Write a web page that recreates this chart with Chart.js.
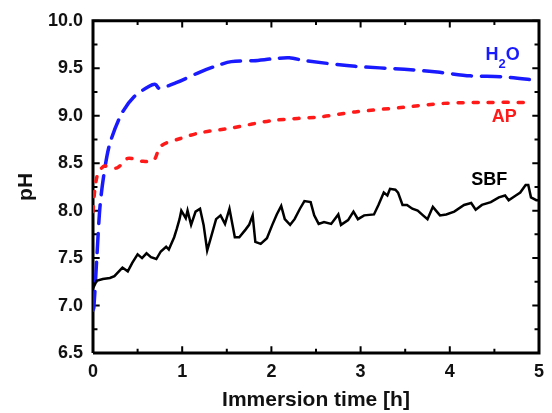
<!DOCTYPE html>
<html>
<head>
<meta charset="utf-8">
<script src="https://cdn.jsdelivr.net/npm/chart.js@4/dist/chart.umd.min.js"></script>
<style>
  html, body { margin: 0; padding: 0; background: #fff; }
  #wrap { width: 552px; height: 413px; }
</style>
</head>
<body>
<div id="wrap"><canvas id="ph-chart" width="552" height="413"></canvas></div>
<script>
// tiempos en horas y valores de pH
const h2oTime = [0, 0.01, 0.045, 0.08, 0.13, 0.19, 0.32, 0.46, 0.63, 0.7, 0.74, 0.94, 1.2, 1.4, 1.55, 1.8, 2.02, 2.2, 2.38, 2.94, 3.49, 3.86, 4.23, 4.59, 5.0];
const h2oPH = [6.95, 6.98, 7.54, 8.06, 8.43, 8.71, 9.02, 9.2, 9.31, 9.33, 9.29, 9.35, 9.46, 9.53, 9.57, 9.58, 9.6, 9.61, 9.58, 9.52, 9.49, 9.46, 9.42, 9.41, 9.37];

const apTime = [0, 0.02, 0.045, 0.08, 0.13, 0.27, 0.39, 0.55, 0.68, 0.76, 0.98, 1.2, 1.55, 2.02, 2.57, 2.94, 3.49, 3.93, 4.41, 4.9];
const apPH = [7.99, 8.22, 8.36, 8.43, 8.47, 8.45, 8.55, 8.52, 8.53, 8.68, 8.76, 8.82, 8.87, 8.95, 8.99, 9.04, 9.09, 9.13, 9.14, 9.14];

const sbfTime = [0, 0.04, 0.11, 0.19, 0.24, 0.33, 0.39, 0.44, 0.5, 0.55, 0.6, 0.65, 0.71, 0.76, 0.82, 0.85, 0.91, 0.94, 0.97, 0.99, 1.04, 1.06, 1.1, 1.15, 1.2, 1.24, 1.28, 1.32, 1.38, 1.43, 1.48, 1.53, 1.59, 1.64, 1.71, 1.75, 1.79, 1.82, 1.88, 1.95, 2.01, 2.06, 2.11, 2.15, 2.21, 2.26, 2.32, 2.37, 2.44, 2.48, 2.53, 2.59, 2.67, 2.75, 2.78, 2.86, 2.92, 2.97, 3.04, 3.15, 3.2, 3.26, 3.3, 3.33, 3.39, 3.42, 3.47, 3.52, 3.58, 3.64, 3.7, 3.75, 3.81, 3.89, 3.96, 4.05, 4.16, 4.24, 4.29, 4.36, 4.46, 4.55, 4.62, 4.66, 4.74, 4.79, 4.85, 4.88, 4.91, 4.97, 5.0];
const sbfPH = [7.18, 7.26, 7.28, 7.29, 7.31, 7.4, 7.36, 7.45, 7.54, 7.5, 7.55, 7.51, 7.49, 7.57, 7.62, 7.59, 7.72, 7.81, 7.91, 8.0, 7.92, 8.0, 7.85, 7.99, 8.02, 7.85, 7.58, 7.71, 7.91, 7.95, 7.86, 8.02, 7.72, 7.72, 7.8, 7.85, 7.95, 7.67, 7.65, 7.71, 7.85, 7.96, 8.05, 7.91, 7.85, 7.91, 8.02, 8.1, 8.09, 7.95, 7.86, 7.88, 7.86, 7.96, 7.85, 7.9, 7.99, 7.91, 7.95, 7.96, 8.06, 8.19, 8.16, 8.23, 8.22, 8.19, 8.06, 8.06, 8.02, 8.0, 7.95, 7.91, 8.04, 7.95, 7.96, 7.99, 8.06, 8.08, 8.01, 8.06, 8.09, 8.14, 8.16, 8.11, 8.16, 8.19, 8.27, 8.27, 8.14, 8.11, 8.11];

// marcas principales y secundarias
const xTicks = [0, 0.5, 1, 1.5, 2, 2.5, 3, 3.5, 4, 4.5, 5];
const yTicks = [6.5, 6.75, 7.0, 7.25, 7.5, 7.75, 8.0, 8.25, 8.5, 8.75, 9.0, 9.25, 9.5, 9.75, 10.0];

const toPoints = (t, v) => t.map((x, i) => ({ x: x, y: v[i] }));

const FONT = 'Liberation Sans, Arial, sans-serif';
const isMajorX = v => Math.abs(v - Math.round(v)) < 1e-6;
const isMajorY = v => Math.abs(v * 2 - Math.round(v * 2)) < 1e-6;

const xMin = xTicks[0], xMax = xTicks[xTicks.length - 1];
const yMin = yTicks[0], yMax = yTicks[yTicks.length - 1];

// marco del grafico como serie
const framePoints = [
    { x: xMin, y: yMin }, { x: xMax, y: yMin }, { x: xMax, y: yMax },
    { x: xMin, y: yMax }, { x: xMin, y: yMin }
];

// marcas hacia dentro como segmentos separados por null
const tickPoints = [];
xTicks.forEach(v => {
    const l = isMajorX(v) ? 0.07 : 0.045;
    tickPoints.push({ x: v, y: yMin }, { x: v, y: yMin + l }, { x: v, y: null });
    tickPoints.push({ x: v, y: yMax }, { x: v, y: yMax - l }, { x: v, y: null });
});
yTicks.forEach(v => {
    const l = isMajorY(v) ? 0.075 : 0.05;
    tickPoints.push({ x: xMin, y: v }, { x: xMin + l, y: v }, { x: xMin + l, y: null });
    tickPoints.push({ x: xMax, y: v }, { x: xMax - l, y: v }, { x: xMax - l, y: null });
});

// etiquetas de las curvas
const labelsPlugin = {
    id: 'curveLabels',
    afterDraw(chart) {
        const ctx = chart.ctx;
        const xs = chart.scales.x, ys = chart.scales.y;
        ctx.save();
        ctx.font = 'bold 18px ' + FONT;
        ctx.textBaseline = 'middle';
        ctx.textAlign = 'left';
        let x = xs.getPixelForValue(4.4), y = ys.getPixelForValue(9.64);
        ctx.fillStyle = '#1a1aff';
        ctx.fillText('H', x, y);
        x += ctx.measureText('H').width;
        ctx.font = 'bold 13px ' + FONT;
        ctx.fillText('2', x, y + 9);
        x += ctx.measureText('2').width;
        ctx.font = 'bold 18px ' + FONT;
        ctx.fillText('O', x, y);
        ctx.fillStyle = '#ff1a1a';
        ctx.fillText('AP', xs.getPixelForValue(4.47), ys.getPixelForValue(8.99));
        ctx.fillStyle = '#000';
        ctx.fillText('SBF', xs.getPixelForValue(4.24), ys.getPixelForValue(8.32));
        ctx.restore();
    }
};

new Chart(document.getElementById('ph-chart'), {
    type: 'line',
    data: {
        datasets: [
            {
                label: 'SBF',
                data: toPoints(sbfTime, sbfPH),
                borderColor: '#000',
                borderWidth: 2.5,
                pointRadius: 0,
                tension: 0
            },
            {
                label: 'AP',
                data: toPoints(apTime, apPH),
                borderColor: '#ff1a1a',
                borderWidth: 3.5,
                borderDash: [5, 10],
                borderCapStyle: 'round',
                pointRadius: 0,
                tension: 0.3
            },
            {
                label: 'H2O',
                data: toPoints(h2oTime, h2oPH),
                borderColor: '#1a1aff',
                borderWidth: 3.5,
                borderDash: [19, 10],
                borderCapStyle: 'round',
                pointRadius: 0,
                tension: 0.3
            },
            {
                label: 'ticks',
                data: tickPoints,
                borderColor: '#000',
                borderWidth: 2,
                pointRadius: 0,
                tension: 0,
                spanGaps: false,
                clip: false
            },
            {
                label: 'frame',
                data: framePoints,
                borderColor: '#000',
                borderWidth: 3,
                pointRadius: 0,
                tension: 0,
                clip: false
            }
        ]
    },
    options: {
        responsive: false,
        animation: false,
        layout: { padding: { left: 0, right: 6, top: 16, bottom: 0 } },
        plugins: { legend: { display: false }, tooltip: { enabled: false } },
        scales: {
            x: {
                type: 'linear',
                min: xMin,
                max: xMax,
                afterBuildTicks: s => { s.ticks = xTicks.filter(isMajorX).map(v => ({ value: v })); },
                afterFit: s => { s.height = 60; },
                grid: { display: false, drawTicks: false },
                border: { display: false },
                ticks: {
                    color: '#111',
                    font: { family: FONT, size: 18, weight: 'bold' },
                    padding: 8,
                    maxRotation: 0,
                    autoSkip: false,
                    callback: v => String(v)
                },
                title: {
                    display: true,
                    text: 'Immersion time [h]',
                    color: '#111',
                    font: { family: FONT, size: 21, weight: 'bold' },
                    padding: { top: 2, bottom: 0 }
                }
            },
            y: {
                min: yMin,
                max: yMax,
                afterBuildTicks: s => { s.ticks = yTicks.filter(isMajorY).map(v => ({ value: v })); },
                afterFit: s => { s.width = 93; },
                grid: { display: false, drawTicks: false },
                border: { display: false },
                ticks: {
                    color: '#111',
                    font: { family: FONT, size: 18, weight: 'bold' },
                    padding: 10,
                    autoSkip: false,
                    callback: v => v.toFixed(1)
                },
                title: {
                    display: true,
                    text: 'pH',
                    color: '#111',
                    font: { family: FONT, size: 21, weight: 'bold' },
                    padding: { top: 14, bottom: 4 }
                }
            }
        }
    },
    plugins: [labelsPlugin]
});
</script>
</body>
</html>
